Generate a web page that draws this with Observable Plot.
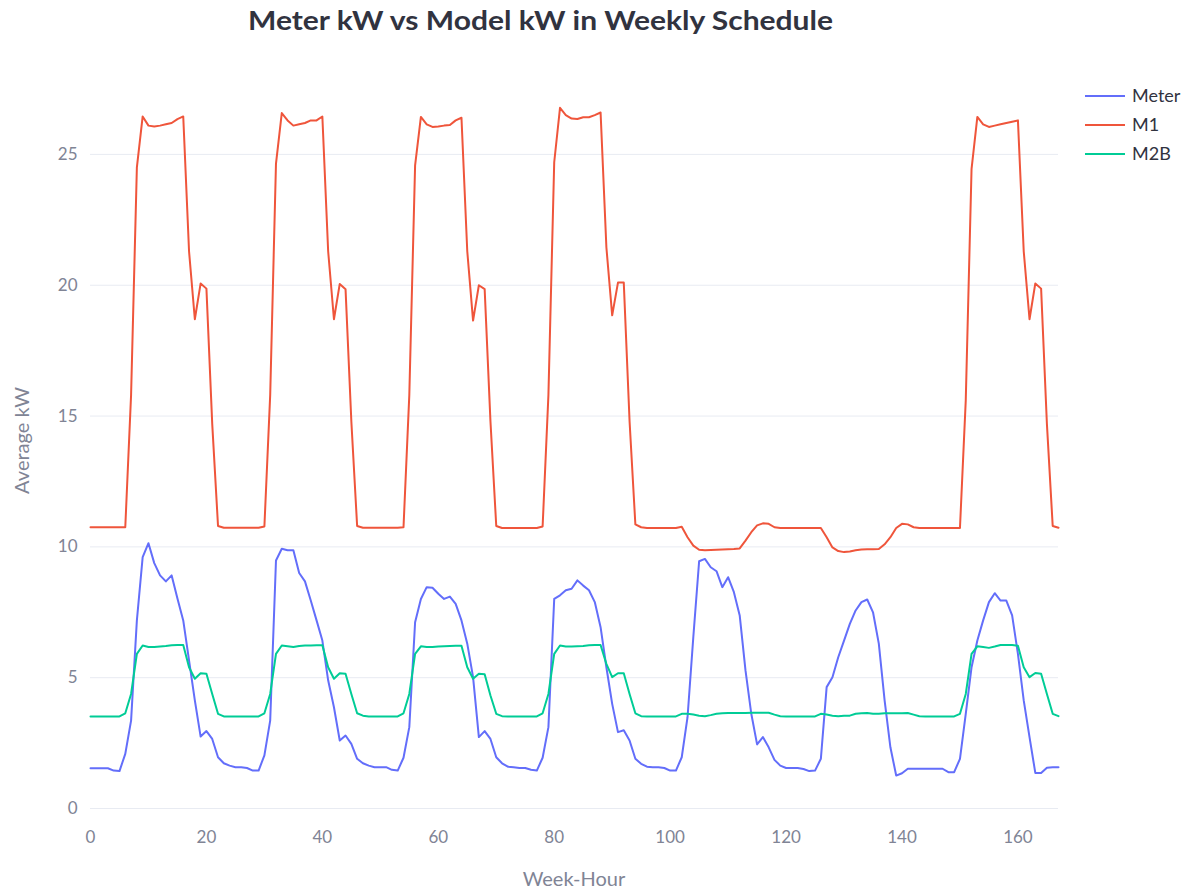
<!DOCTYPE html>
<html>
<head>
<meta charset="utf-8">
<script src="https://cdn.jsdelivr.net/npm/d3@7"></script>
<script src="https://cdn.jsdelivr.net/npm/@observablehq/plot@0.6"></script>
<style>
  html, body { margin: 0; padding: 0; background: #ffffff; }
  #wrap { position: relative; width: 1198px; height: 893px; font-family: Lato, "Noto Sans", sans-serif; }
  #wrap > svg { position: absolute; left: 0; top: 0; }
</style>
</head>
<body>
<div id="wrap"></div>
<script>
const title = "Meter kW vs Model kW in Weekly Schedule";
const xLabel = "Week-Hour";
const yLabel = "Average kW";
const seriesNames = ["Meter", "M1", "M2B"];
const seriesColors = ["#636efa", "#ef553b", "#00cc96"];
const xTicks = [0, 20, 40, 60, 80, 100, 120, 140, 160];
const yTicks = [0, 5, 10, 15, 20, 25];

const meter = [
  1.54,1.54,1.54,1.54,1.45,1.43,2.09,3.36,7.19,9.61,10.14,9.38,8.91,8.68,8.91,8.03,7.19,5.66,4.13,2.75,2.96,2.66,1.96,1.73,
  1.64,1.58,1.58,1.55,1.45,1.45,2.03,3.36,9.48,9.93,9.87,9.87,9.0,8.68,7.95,7.19,6.42,4.9,3.87,2.6,2.79,2.47,1.9,1.73,
  1.64,1.58,1.58,1.58,1.48,1.45,1.94,3.11,7.12,8.01,8.46,8.44,8.21,8.01,8.1,7.82,7.19,6.3,5.02,2.73,2.96,2.66,1.96,1.73,
  1.6,1.58,1.55,1.55,1.48,1.45,1.94,3.11,8.01,8.15,8.34,8.4,8.72,8.52,8.34,7.89,6.93,5.4,4.0,2.92,2.99,2.6,1.9,1.71,
  1.6,1.58,1.58,1.55,1.45,1.45,1.96,3.49,6.56,9.45,9.54,9.22,9.07,8.46,8.84,8.27,7.38,5.28,3.62,2.45,2.73,2.34,1.86,1.64,
  1.55,1.55,1.55,1.51,1.43,1.45,1.9,4.64,5.02,5.78,6.42,7.06,7.57,7.89,7.99,7.5,6.3,4.13,2.34,1.26,1.35,1.52,1.52,1.52,
  1.52,1.52,1.52,1.52,1.39,1.39,1.9,3.62,5.4,6.42,7.19,7.89,8.23,7.95,7.95,7.38,5.91,4.13,2.73,1.36,1.36,1.56,1.58,1.58
];

const m1 = [
  10.75,10.75,10.75,10.75,10.75,10.75,10.75,15.8,24.5,26.45,26.1,26.07,26.1,26.15,26.2,26.35,26.45,21.3,18.7,20.07,19.87,14.7,10.8,10.73,
  10.73,10.73,10.73,10.73,10.73,10.73,10.78,15.8,24.65,26.58,26.3,26.1,26.15,26.2,26.3,26.3,26.45,21.3,18.7,20.05,19.85,14.8,10.8,10.73,
  10.73,10.73,10.73,10.73,10.73,10.73,10.75,15.8,24.58,26.43,26.15,26.05,26.07,26.1,26.12,26.3,26.4,21.3,18.65,20.0,19.85,14.8,10.8,10.72,
  10.72,10.72,10.72,10.72,10.72,10.72,10.78,15.8,24.7,26.78,26.5,26.37,26.35,26.42,26.42,26.5,26.6,21.45,18.85,20.1,20.1,14.8,10.86,10.75,
  10.72,10.72,10.72,10.72,10.72,10.72,10.77,10.37,10.05,9.89,9.87,9.88,9.89,9.9,9.91,9.92,9.94,10.24,10.56,10.82,10.9,10.88,10.75,10.72,
  10.72,10.72,10.72,10.72,10.72,10.72,10.72,10.37,9.98,9.84,9.8,9.82,9.87,9.9,9.91,9.91,9.92,10.1,10.37,10.72,10.88,10.86,10.75,10.72,
  10.72,10.72,10.72,10.72,10.72,10.72,10.72,15.6,24.45,26.43,26.15,26.05,26.1,26.15,26.2,26.25,26.3,21.3,18.7,20.07,19.87,14.7,10.8,10.73
];

const m2b = [
  3.52,3.52,3.52,3.52,3.52,3.52,3.64,4.38,5.91,6.23,6.17,6.17,6.19,6.21,6.24,6.25,6.25,5.4,4.96,5.17,5.15,4.38,3.62,3.52,
  3.52,3.52,3.52,3.52,3.52,3.52,3.64,4.38,5.91,6.23,6.2,6.17,6.21,6.23,6.23,6.24,6.24,5.4,4.96,5.17,5.15,4.38,3.64,3.55,
  3.52,3.52,3.52,3.52,3.52,3.52,3.64,4.38,5.91,6.2,6.17,6.17,6.19,6.2,6.21,6.22,6.22,5.4,4.96,5.15,5.13,4.32,3.62,3.53,
  3.52,3.52,3.52,3.52,3.52,3.52,3.64,4.38,5.91,6.23,6.19,6.19,6.2,6.21,6.24,6.25,6.25,5.53,5.02,5.17,5.17,4.38,3.64,3.53,
  3.52,3.52,3.52,3.52,3.52,3.52,3.62,3.62,3.59,3.55,3.53,3.57,3.62,3.64,3.65,3.65,3.65,3.65,3.66,3.66,3.66,3.66,3.59,3.53,
  3.52,3.52,3.52,3.52,3.52,3.52,3.62,3.59,3.55,3.53,3.55,3.55,3.62,3.64,3.65,3.62,3.62,3.64,3.64,3.64,3.64,3.65,3.59,3.53,
  3.52,3.52,3.52,3.52,3.52,3.52,3.62,4.38,5.91,6.2,6.17,6.14,6.19,6.25,6.25,6.25,6.22,5.4,5.02,5.18,5.15,4.38,3.62,3.53
];

const seriesValues = [meter, m1, m2b];
const rows = [];
seriesNames.forEach((name, s) => {
  seriesValues[s].forEach((v, h) => rows.push({series: name, hour: h, kw: v}));
});

const W = 1198, H = 893;
const mL = 90, mR = 140, mT = 100, mB = 80;
const tickColor = "#808495";
const gridColor = "#e8ebf2";

const chart = Plot.plot({
  width: W,
  height: H,
  marginLeft: mL,
  marginRight: mR,
  marginTop: mT,
  marginBottom: mB,
  style: {fontFamily: "Lato, 'Noto Sans', sans-serif", background: "transparent", overflow: "visible"},
  x: {domain: [0, 167]},
  y: {domain: [-0.19, 27.06]},
  color: {domain: seriesNames, range: seriesColors},
  marks: [
    Plot.gridY(yTicks, {stroke: gridColor, strokeOpacity: 1, strokeWidth: 1}),
    Plot.axisX(xTicks, {tickSize: 0, tickPadding: 17, fontSize: 17, color: tickColor, label: null}),
    Plot.axisY(yTicks, {tickSize: 0, tickPadding: 13, fontSize: 17, color: tickColor, label: null}),
    Plot.line(rows, {x: "hour", y: "kw", z: "series", stroke: "series", strokeWidth: 2, curve: "linear"})
  ]
});
document.getElementById("wrap").appendChild(chart);

// Overlay: title, axis titles, legend
const ov = d3.select("#wrap").append("svg")
  .attr("width", W).attr("height", H)
  .style("font-family", "Lato, 'Noto Sans', sans-serif");

ov.append("text")
  .attr("x", 248).attr("y", 30)
  .attr("textLength", 585).attr("lengthAdjust", "spacingAndGlyphs")
  .attr("font-size", 27).attr("font-weight", 700).attr("fill", "#31333f")
  .text(title);

ov.append("text")
  .attr("x", (mL + (W - mR)) / 2).attr("y", 886)
  .attr("text-anchor", "middle").attr("font-size", 20).attr("fill", tickColor)
  .text(xLabel);

ov.append("text")
  .attr("transform", `translate(29, ${(mT + (H - mB)) / 2 - 16}) rotate(-90)`)
  .attr("text-anchor", "middle").attr("font-size", 20).attr("fill", tickColor)
  .text(yLabel);

const lg = ov.append("g").attr("transform", "translate(1085, 96)");
seriesNames.forEach((name, i) => {
  const g = lg.append("g").attr("transform", `translate(0, ${i * 29})`);
  g.append("line").attr("x1", 0).attr("x2", 40).attr("y1", 0).attr("y2", 0)
    .attr("stroke", seriesColors[i]).attr("stroke-width", 2);
  g.append("text").attr("x", 47).attr("y", 0).attr("dy", "0.35em")
    .attr("font-size", 18).attr("fill", "#31333f").text(name);
});
</script>
</body>
</html>
